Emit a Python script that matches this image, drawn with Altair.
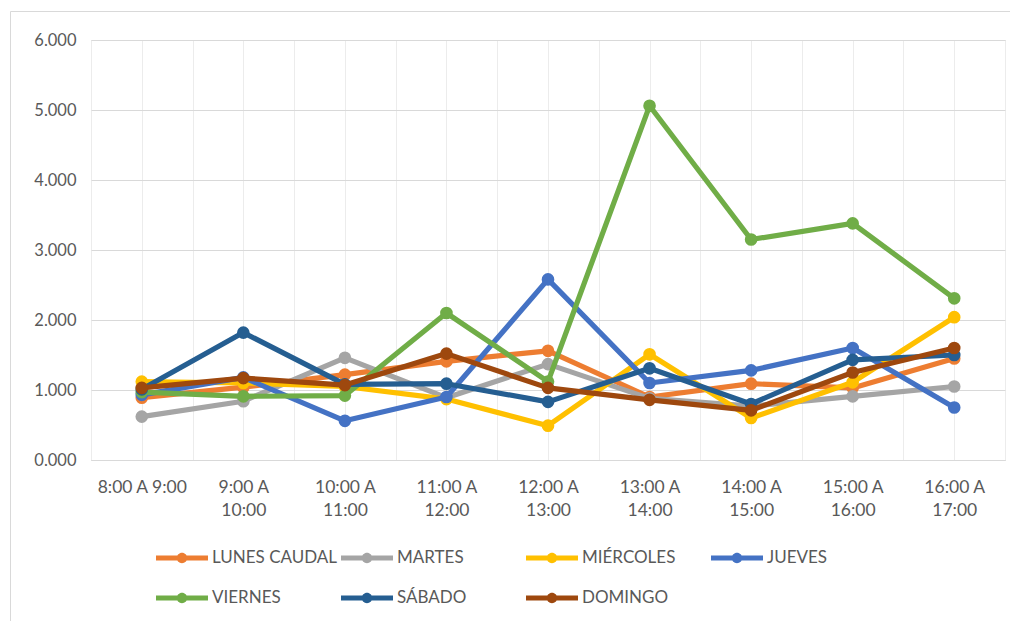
import json
import altair as alt
import pandas as pd

# ---- data ----
franjas = ["8:00 A 9:00", "9:00 A 10:00", "10:00 A 11:00", "11:00 A 12:00",
           "12:00 A 13:00", "13:00 A 14:00", "14:00 A 15:00", "15:00 A 16:00",
           "16:00 A 17:00"]
x_labels = [["8:00 A 9:00"], ["9:00 A", "10:00"], ["10:00 A", "11:00"],
            ["11:00 A", "12:00"], ["12:00 A", "13:00"], ["13:00 A", "14:00"],
            ["14:00 A", "15:00"], ["15:00 A", "16:00"], ["16:00 A", "17:00"]]

series = ["LUNES CAUDAL", "MARTES", "MIÉRCOLES", "JUEVES", "VIERNES", "SÁBADO", "DOMINGO"]
colors = ["#ED7D31", "#A5A5A5", "#FFC000", "#4472C4", "#70AD47", "#255E91", "#9E480E"]

lunes = [0.89, 1.04, 1.22, 1.41, 1.56, 0.90, 1.09, 1.03, 1.45]
martes = [0.62, 0.84, 1.46, 0.89, 1.37, 0.88, 0.77, 0.91, 1.05]
miercoles = [1.12, 1.10, 1.05, 0.87, 0.49, 1.51, 0.60, 1.11, 2.04]
jueves = [0.93, 1.18, 0.56, 0.90, 2.58, 1.10, 1.28, 1.60, 0.75]
viernes = [0.97, 0.91, 0.92, 2.10, 1.12, 5.06, 3.15, 3.38, 2.31]
sabado = [1.01, 1.82, 1.08, 1.09, 0.83, 1.31, 0.80, 1.43, 1.50]
domingo = [1.03, 1.17, 1.07, 1.52, 1.03, 0.86, 0.71, 1.25, 1.60]
values = [lunes, martes, miercoles, jueves, viernes, sabado, domingo]

y_ticks = [0, 1, 2, 3, 4, 5, 6]

rows = []
for s, vals in zip(series, values):
    for i, (f, v) in enumerate(zip(franjas, vals)):
        rows.append({"idx": i, "franja": f, "serie": s, "valor": v})
df = pd.DataFrame(rows)

FONT = "Lato"
TXT = "#595959"

x_vals = [i / 2 for i in range(-1, 2 * len(franjas))]
x_axis = alt.Axis(
    values=x_vals,
    labelExpr=json.dumps(x_labels) + "[datum.value] || ''",
    title=None, grid=True, gridColor="#ececec", gridWidth=1,
    domain=True, domainColor="#d9d9d9", domainWidth=1.2, ticks=False,
    labelPadding=18, labelLineHeight=23, labelFontSize=17.5, labelFont=FONT,
    labelColor=TXT, labelOverlap=False, labelFlush=False, labelBaseline="top",
)
y_axis = alt.Axis(
    values=y_ticks, format=".3f", title=None, grid=True, gridColor="#d9d9d9",
    gridWidth=1.2, domain=False, ticks=False, labelPadding=15, labelFontSize=16.5,
    labelFont=FONT, labelColor=TXT,
)

xenc = alt.X("idx:Q", scale=alt.Scale(domain=[-0.5, len(franjas) - 0.5], nice=False, zero=False), axis=x_axis)
yenc = alt.Y("valor:Q", scale=alt.Scale(domain=[0, 6], nice=False), axis=y_axis)

legend = alt.Legend(
    orient="none", legendX=81, legendY=508, direction="horizontal", columns=4,
    title=None, padding=0, gridAlign="all",
    symbolType="M-2.6,-0.25L2.6,-0.25L2.6,0.25L-2.6,0.25Z M-0.52,0A0.52,0.52 0 1,1 0.52,0A0.52,0.52 0 1,1 -0.52,0Z",
    symbolSize=400, symbolStrokeWidth=0, symbolOpacity=1,
    labelOffset=20, labelFontSize=17, labelFont=FONT, labelColor=TXT, labelLimit=300,
    columnPadding=3, rowPadding=22,
)
color = alt.Color("serie:N", scale=alt.Scale(domain=series, range=colors), legend=legend)

base = alt.Chart(df)
layers = []
for s, c in zip(series, colors):
    sub = base.transform_filter(alt.datum.serie == s)
    layers.append(sub.mark_line(strokeWidth=5.2, strokeCap="round", strokeJoin="round", color=c)
                  .encode(x=xenc, y=yenc))
    layers.append(sub.mark_point(filled=True, size=160, opacity=1)
                  .encode(x=xenc, y=yenc, color=color))

frame_df = pd.DataFrame({"k": [0]})
frame_top = alt.Chart(frame_df).mark_rule(color="#d9d9d9", strokeWidth=1).encode(
    x=alt.value(-80.5), x2=alt.value(1100), y=alt.value(-28.5))
frame_left = alt.Chart(frame_df).mark_rule(color="#d9d9d9", strokeWidth=1).encode(
    x=alt.value(-80.5), y=alt.value(-28.5), y2=alt.value(700))

chart = alt.layer(frame_top, frame_left, *layers).properties(
    width=914, height=420,
    autosize=alt.AutoSizeParams(type="none"),
    padding={"left": 83, "top": 32, "right": 5, "bottom": 161},
).configure_view(stroke=None).configure(background="white")

chart.save("out.html", embed_options={"renderer": "svg", "actions": False})
